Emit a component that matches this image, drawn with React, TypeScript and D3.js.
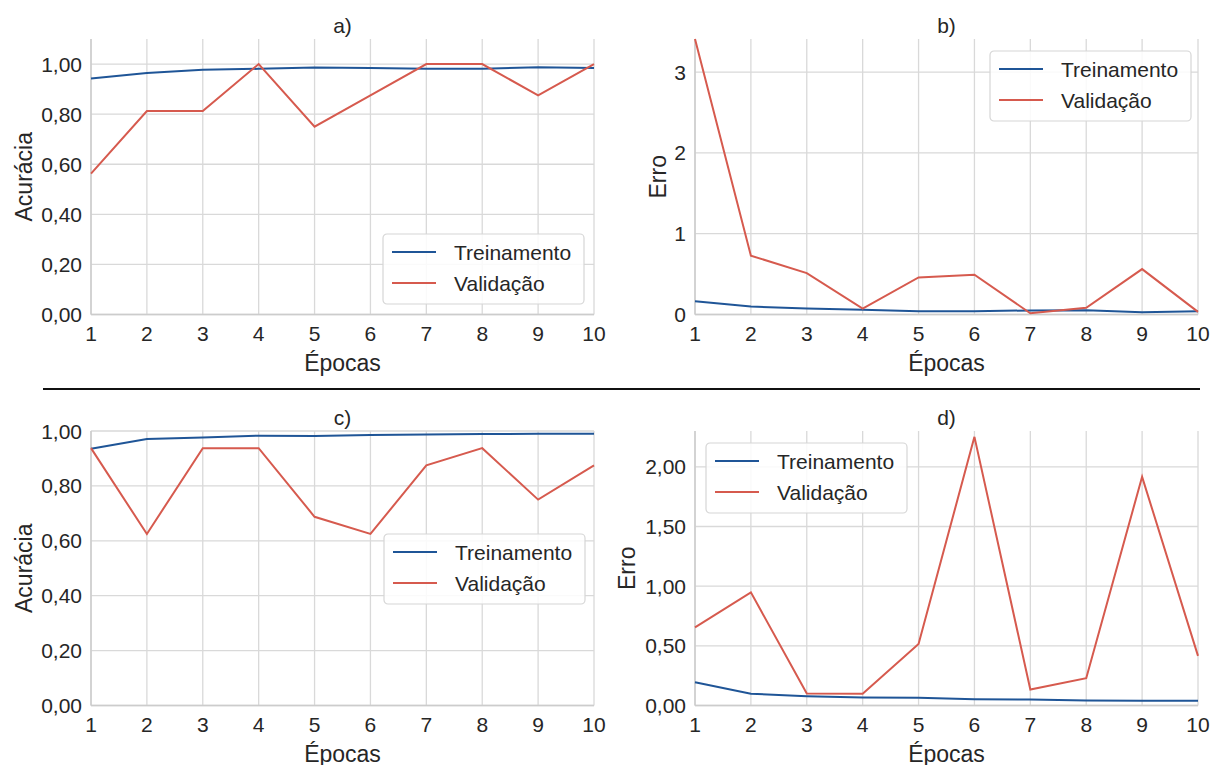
import React from "react";
import * as d3 from "d3";

const epochs = [1, 2, 3, 4, 5, 6, 7, 8, 9, 10];

const trainAccA = [0.942, 0.964, 0.977, 0.981, 0.986, 0.984, 0.981, 0.981, 0.987, 0.984];
const valAccA = [0.5625, 0.8125, 0.8125, 1.0, 0.75, 0.875, 1.0, 1.0, 0.875, 1.0];
const trainLossB = [0.165, 0.099, 0.074, 0.058, 0.041, 0.041, 0.05, 0.054, 0.029, 0.041];
const valLossB = [3.41, 0.728, 0.512, 0.074, 0.459, 0.492, 0.016, 0.083, 0.562, 0.033];
const trainAccC = [0.935, 0.971, 0.976, 0.983, 0.982, 0.985, 0.987, 0.989, 0.99, 0.99];
const valAccC = [0.9375, 0.625, 0.9375, 0.9375, 0.6875, 0.625, 0.875, 0.9375, 0.75, 0.875];
const trainLossD = [0.195, 0.098, 0.078, 0.067, 0.064, 0.053, 0.05, 0.042, 0.039, 0.039];
const valLossD = [0.655, 0.948, 0.1, 0.098, 0.516, 2.251, 0.134, 0.229, 1.916, 0.416];

const ticksAcc = [0, 0.2, 0.4, 0.6, 0.8, 1.0];
const ticksLossB = [0, 1, 2, 3];
const ticksLossD = [0, 0.5, 1.0, 1.5, 2.0];

const seriesNames = ["Treinamento", "Validação"];
const BLUE = "#1f5597";
const RED = "#d65a4e";
const GRID = "#d9d9d9";
const FONT = "'Liberation Sans', Arial, Helvetica, sans-serif";

const fmt2 = (v: number) => d3.format(".2f")(v).replace(".", ",");
const fmt0 = (v: number) => d3.format("d")(v);

type PanelProps = {
  title: string;
  ylabel: string;
  left: number;
  right: number;
  top: number;
  bottom: number;
  yMax: number;
  yTicks: number[];
  yFmt: (v: number) => string;
  train: number[];
  val: number[];
  legend: { x: number; y: number };
  ylabelX: number;
};

function Panel(p: PanelProps) {
  const x = d3.scaleLinear().domain([1, 10]).range([p.left, p.right]);
  const y = d3.scaleLinear().domain([0, p.yMax]).range([p.bottom, p.top]);
  const line = d3
    .line<number>()
    .x((_, i) => x(epochs[i]))
    .y((d) => y(d));
  const cx = (p.left + p.right) / 2;
  const cy = (p.top + p.bottom) / 2;
  const lw = 201;
  const lh = 70;
  return (
    <g>
      {/* grid */}
      {epochs.map((e) => (
        <line key={"vx" + e} x1={x(e)} x2={x(e)} y1={p.top} y2={p.bottom} stroke={GRID} strokeWidth={1.3} />
      ))}
      {p.yTicks.map((t) => (
        <line key={"hy" + t} x1={p.left} x2={p.right} y1={y(t)} y2={y(t)} stroke={GRID} strokeWidth={1.3} />
      ))}
      {/* spines */}
      <line x1={p.left} x2={p.left} y1={p.top} y2={p.bottom} stroke="#cccccc" strokeWidth={1.5} />
      <line x1={p.left} x2={p.right} y1={p.bottom} y2={p.bottom} stroke="#cccccc" strokeWidth={1.5} />
      {/* lines */}
      <path d={line(p.train) || ""} fill="none" stroke={BLUE} strokeWidth={2} />
      <path d={line(p.val) || ""} fill="none" stroke={RED} strokeWidth={2} />
      {/* ticks */}
      {p.yTicks.map((t) => (
        <text key={"ty" + t} x={p.left - 9} y={y(t)} dy="0.36em" textAnchor="end" fontSize={21} fill="#262626" fontFamily={FONT}>
          {p.yFmt(t)}
        </text>
      ))}
      {epochs.map((e) => (
        <text key={"tx" + e} x={x(e)} y={p.bottom + 26} textAnchor="middle" fontSize={21} fill="#262626" fontFamily={FONT}>
          {e}
        </text>
      ))}
      {/* labels */}
      <text x={cx} y={p.bottom + 56} textAnchor="middle" fontSize={23} fill="#262626" fontFamily={FONT}>
        Épocas
      </text>
      <text
        transform={`translate(${p.ylabelX},${cy}) rotate(-90)`}
        textAnchor="middle"
        dy="0.36em"
        fontSize={23}
        fill="#262626"
        fontFamily={FONT}
      >
        {p.ylabel}
      </text>
      <text x={cx} y={p.top - 6} textAnchor="middle" fontSize={21} fill="#262626" fontFamily={FONT}>
        {p.title}
      </text>
      {/* legend */}
      <g transform={`translate(${p.legend.x},${p.legend.y})`}>
        <rect x={0} y={0} width={lw} height={lh} rx={4} fill="white" fillOpacity={0.85} stroke="#d6d6d6" strokeWidth={1.2} />
        {seriesNames.map((n, i) => (
          <g key={n} transform={`translate(0,${18 + i * 31})`}>
            <line x1={9} x2={53} y1={0} y2={0} stroke={i === 0 ? BLUE : RED} strokeWidth={2} />
            <text x={71} y={0} dy="0.36em" fontSize={21} fill="#262626" fontFamily={FONT}>
              {n}
            </text>
          </g>
        ))}
      </g>
    </g>
  );
}

export default function App() {
  return (
    <svg
      width={1213}
      height={765}
      style={{ position: "absolute", left: 0, top: 0, background: "white" }}
    >
      <rect width={1213} height={765} fill="white" />
      <Panel
        title="a)"
        ylabel="Acurácia"
        left={91}
        right={594}
        top={39}
        bottom={314.5}
        yMax={1.1}
        yTicks={ticksAcc}
        yFmt={fmt2}
        train={trainAccA}
        val={valAccA}
        legend={{ x: 383, y: 234 }}
        ylabelX={24}
      />
      <Panel
        title="b)"
        ylabel="Erro"
        left={695}
        right={1198}
        top={39}
        bottom={314.5}
        yMax={3.41}
        yTicks={ticksLossB}
        yFmt={fmt0}
        train={trainLossB}
        val={valLossB}
        legend={{ x: 990, y: 51 }}
        ylabelX={658}
      />
      <line x1={43} x2={1200} y1={389} y2={389} stroke="#111" strokeWidth={2} />
      <Panel
        title="c)"
        ylabel="Acurácia"
        left={91}
        right={594}
        top={431}
        bottom={705.5}
        yMax={1.0}
        yTicks={ticksAcc}
        yFmt={fmt2}
        train={trainAccC}
        val={valAccC}
        legend={{ x: 384, y: 534 }}
        ylabelX={24}
      />
      <Panel
        title="d)"
        ylabel="Erro"
        left={695}
        right={1198}
        top={431}
        bottom={705.5}
        yMax={2.3}
        yTicks={ticksLossD}
        yFmt={fmt2}
        train={trainLossD}
        val={valLossD}
        legend={{ x: 706, y: 443 }}
        ylabelX={627}
      />
    </svg>
  );
}
